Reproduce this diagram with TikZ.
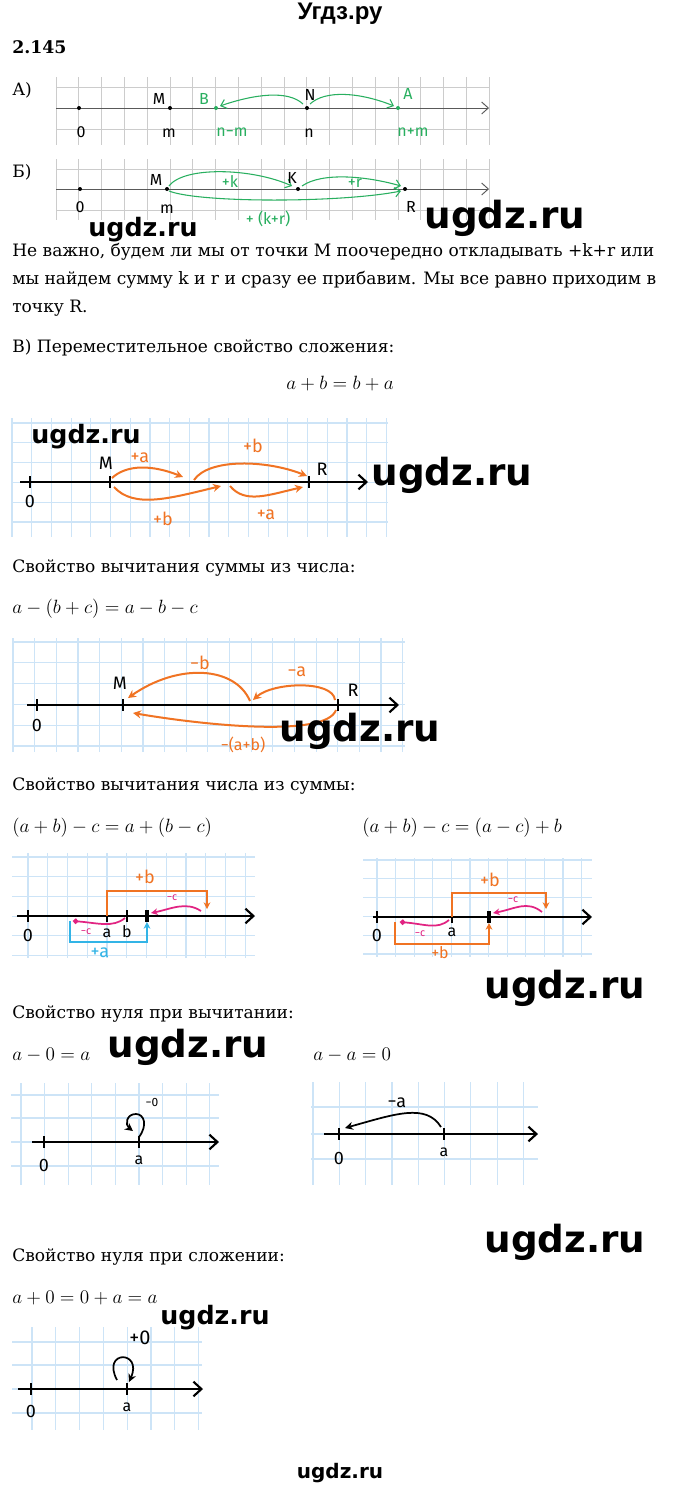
\documentclass[tikz,border=0pt]{standalone}
\usepackage{fontspec}
\setmainfont{DejaVu Serif}
\newfontfamily\headfont{Liberation Sans}
\newfontfamily\wmfont{DejaVu Sans}
\newfontfamily\handfont{Fira Sans}
\usetikzlibrary{arrows.meta, calc}
\definecolor{hgreen}{RGB}{40,175,95}
\definecolor{horange}{RGB}{240,115,35}
\definecolor{hpink}{RGB}{225,35,130}
\definecolor{hcyan}{RGB}{50,180,230}
\definecolor{gridblue}{RGB}{205,228,247}
\tikzset{
  txt/.style={anchor=west, inner sep=0pt, font=\fontsize{12.8}{15}\selectfont},
  frm/.style={inner sep=0pt, font=\fontsize{15.5}{18}\selectfont},
  wmbig/.style={inner sep=0pt, font=\wmfont\bfseries\fontsize{28}{30}\selectfont},
  wmsmall/.style={inner sep=0pt, font=\wmfont\bfseries\fontsize{19}{21}\selectfont},
  greygrid/.style={draw=black!20, line width=0.5pt},
  bluegrid/.style={draw=gridblue, line width=0.9pt},
  thinaxis/.style={draw=black!65, line width=0.7pt, -{Straight Barb[length=5pt,width=9pt]}},
  boldaxis/.style={draw=black, line width=1.6pt, -{Straight Barb[length=6pt,width=11pt]}},
  dotpt/.style={circle, fill=black, inner sep=0pt, minimum size=3pt},
  tick/.style={draw=black, line width=1.3pt},
  hand/.style={inner sep=0pt, font=\handfont\fontsize{12}{14}\selectfont},
  bighand/.style={inner sep=0pt, font=\handfont\fontsize{13.5}{15}\selectfont},
  smallhand/.style={inner sep=0pt, font=\handfont\fontsize{8}{9}\selectfont},
  greenarc/.style={draw=hgreen, line width=0.8pt, -{Straight Barb[length=4pt,width=7pt]}},
  orangearc/.style={draw=horange, line width=1.5pt, -{Stealth[length=6pt,width=6pt]}},
  pinkarc/.style={draw=hpink, line width=1.3pt, -{Stealth[length=5pt,width=5pt]}},
  pinkdot/.style={draw=hpink, line width=1.3pt, -{Circle[length=4pt]}},
  bracket/.style={line width=1.3pt, -{Stealth[length=5pt,width=5pt]}},
  blackarc/.style={draw=black, line width=1.3pt, -{Stealth[length=6pt,width=6pt]}}
}

\begin{document}
\begin{tikzpicture}[x=0.75pt, y=-0.75pt]
  \useasboundingbox (0,0) rectangle (680,1492);
  \fill[white] (0,0) rectangle (680,1492);

  % Header
  \node[inner sep=0pt, font=\headfont\bfseries\fontsize{18}{20}\selectfont] (title) at (340,14) {Угдз.ру};
  \node[txt, font=\bfseries\fontsize{13}{15}\selectfont] (num) at (12,47) {2.145};

  % Part A
  \node[txt] (partA) at (12,90) {А)};
  \foreach \i in {0,...,19}
    \draw[greygrid] ({56+22.8*\i},77) -- ({56+22.8*\i},145);
  \foreach \y in {87,108,129}
    \draw[greygrid] (56,\y) -- (489,\y);
  \coordinate (A0) at (79,108);
  \coordinate (Am) at (170,108);
  \coordinate (AB) at (216,108);
  \coordinate (AN) at (307,108);
  \coordinate (AA) at (398,108);
  \coordinate (Aend) at (489,108);
  \draw[thinaxis] (56,108) -- (Aend);
  \foreach \p in {A0,Am,AN} \node[dotpt] at (\p) {};
  \foreach \p in {AB,AA} \node[dotpt, fill=hgreen] at (\p) {};
  \draw[greenarc] ($(AN)+(-4,-4)$) .. controls +(-15,-14) and +(35,-12) .. ($(AB)+(4,-2)$);
  \draw[greenarc] ($(AN)+(3,-4)$) .. controls +(15,-14) and +(-35,-14) .. ($(AA)+(-4,-2)$);
  \node[hand] (lM) at (159,99) {M};
  \node[hand, hgreen] (lB) at (204,99) {B};
  \node[hand] (lN) at (310,95) {N};
  \node[hand, hgreen] (lA) at (408,94) {A};
  \node[hand] (l0) at (81,132) {0};
  \node[hand] (lm) at (169,133) {m};
  \node[hand, hgreen] (lnm) at (232,132) {n−m};
  \node[hand] (ln) at (309,133) {n};
  \node[hand, hgreen] (lnp) at (413,132) {n+m};

  % Part B
  \node[txt] (partB) at (12,172) {Б)};
  \foreach \i in {0,...,19}
    \draw[greygrid] ({56+22.8*\i},159) -- ({56+22.8*\i},220);
  \foreach \y in {169,189,210}
    \draw[greygrid] (56,\y) -- (489,\y);
  \coordinate (B0) at (80,189);
  \coordinate (Bm) at (167,189);
  \coordinate (BK) at (298,189);
  \coordinate (BR) at (405,189);
  \coordinate (Bend) at (489,189);
  \draw[thinaxis] (56,189) -- (Bend);
  \foreach \p in {B0,Bm,BK,BR} \node[dotpt] at (\p) {};
  \draw[greenarc] ($(Bm)+(2,-3)$) .. controls +(15,-20) and +(-40,-18) .. ($(BK)+(-6,-3)$);
  \draw[greenarc] ($(BK)+(4,-3)$) .. controls +(20,-14) and +(-35,-10) .. ($(BR)+(-4,-3)$);
  \draw[greenarc] ($(Bm)+(2,2)$) .. controls +(30,12) and +(-60,12) .. ($(BR)+(-4,2)$);
  \node[hand] (bM) at (156,180) {M};
  \node[hand] (bK) at (292,178) {K};
  \node[hand] (b0) at (80,207) {0};
  \node[hand] (bm) at (167,209) {m};
  \node[hand] (bR) at (411,207) {R};
  \node[hand, hgreen] (bk) at (230,181) {+k};
  \node[hand, hgreen] (br) at (355,183) {+r};
  \node[hand, hgreen] (bkr) at (268,219) {+ (k+r)};

  % Text of part B
  \node[txt] (p1) at (12,252) {Не важно, будем ли мы от точки М поочередно откладывать +k+r или};
  \node[txt] (p2) at (12,280) {мы найдем сумму k и r и сразу ее прибавим. Мы все равно приходим в};
  \node[txt] (p3) at (12,308) {точку R.};
  \node[txt] (partC) at (12,348) {В) Переместительное свойство сложения:};
  \node[frm] (f1) at (340,384) {$a+b=b+a$};

  % Commutative law
  \foreach \i in {0,...,19}
    \draw[bluegrid] ({12+19.7*\i},418) -- ({12+19.7*\i},537);
  \foreach \j in {0,...,5}
    \draw[bluegrid] (12,{423+19.8*\j}) -- (388,{423+19.8*\j});
  \coordinate (C0) at (30,482);
  \coordinate (CM) at (110,482);
  \coordinate (CR) at (309,482);
  \coordinate (Cend) at (368,482);
  \draw[boldaxis] (20,482) -- (Cend);
  \foreach \p in {C0,CM,CR} \draw[tick] ($(\p)+(0,-6)$) -- ($(\p)+(0,6)$);
  \draw[orangearc] ($(CM)+(2,-4)$) .. controls +(15,-14) and +(-30,-12) .. (183,477);
  \draw[orangearc] (194,480) .. controls +(15,-22) and +(-40,-16) .. ($(CR)+(-2,-6)$);
  \draw[orangearc] ($(CM)+(4,5)$) .. controls +(20,22) and +(-50,12) .. (221,486);
  \draw[orangearc] (230,486) .. controls +(15,18) and +(-35,8) .. ($(CR)+(-6,5)$);
  \node[bighand] (c0) at (30,501) {0};
  \node[bighand] (cM) at (106,463) {M};
  \node[bighand] (cR) at (322,469) {R};
  \node[bighand, horange] (ca1) at (140,458) {+a};
  \node[bighand, horange] (cb1) at (253,446) {+b};
  \node[bighand, horange] (cb2) at (163,519) {+b};
  \node[bighand, horange] (ca2) at (266,515) {+a};

  % Subtracting a sum
  \node[txt] (partD) at (12,568) {Свойство вычитания суммы из числа:};
  \node[frm, anchor=west] (f2) at (12,609) {$a-(b+c)=a-b-c$};
  \foreach \i in {0,...,18}
    \draw[bluegrid] ({13+21.65*\i},638) -- ({13+21.65*\i},752);
  \foreach \j in {0,...,5}
    \draw[bluegrid] (13,{642+20.8*\j}) -- (405,{642+20.8*\j});
  \coordinate (D0) at (37,705);
  \coordinate (DM) at (123,705);
  \coordinate (DR) at (338,705);
  \coordinate (Dend) at (399,705);
  \draw[boldaxis] (27,705) -- (Dend);
  \foreach \p in {D0,DM,DR} \draw[tick] ($(\p)+(0,-6)$) -- ($(\p)+(0,6)$);
  \draw[orangearc] (250,701) .. controls +(-15,-35) and +(50,-35) .. ($(DM)+(5,-7)$);
  \draw[orangearc] ($(DR)+(-3,-5)$) .. controls +(-2,-20) and +(20,-18) .. (253,700);
  \draw[orangearc] ($(DR)+(-2,5)$) .. controls +(-10,28) and +(70,12) .. ($(DM)+(10,8)$);
  \node[bighand] (d0) at (37,725) {0};
  \node[bighand] (dM) at (120,683) {M};
  \node[bighand] (dR) at (353,690) {R};
  \node[bighand, horange] (db) at (200,663) {−b};
  \node[bighand, horange] (da) at (297,672) {−a};
  \node[hand, horange] (dab) at (243,745) {−(a+b)};

  % Subtracting a number from a sum
  \node[txt] (partE) at (12,786) {Свойство вычитания числа из суммы:};
  \node[frm, anchor=west] (f3) at (12,828) {$(a+b)-c=a+(b-c)$};
  \node[frm, anchor=west] (f4) at (362,828) {$(a+b)-c=(a-c)+b$};

  % left diagram
  \foreach \i in {0,...,11}
    \draw[bluegrid] ({28+19.75*\i},853) -- ({28+19.75*\i},958);
  \foreach \j in {0,...,5}
    \draw[bluegrid] (12,{857+19.7*\j}) -- (255,{857+19.7*\j});
  \coordinate (E0) at (28,916);
  \coordinate (Ea) at (107,916);
  \coordinate (Eb) at (127,916);
  \coordinate (Ep) at (147,916);
  \coordinate (Eq) at (207,916);
  \coordinate (Eend) at (255,916);
  \draw[boldaxis] (17,916) -- (Eend);
  \foreach \p in {E0,Ea,Eb} \draw[tick] ($(\p)+(0,-6)$) -- ($(\p)+(0,6)$);
  \draw[tick, line width=3pt] ($(Ep)+(0,-6)$) -- ($(Ep)+(0,6)$);
  \draw[bracket, horange] (Ea) -- ++(0,-25) -| ($(Eq)+(0,-7)$);
  \draw[pinkarc] (201,911) .. controls +(-15,-10) and +(20,-4) .. ($(Ep)+(4,-3)$);
  \draw[pinkdot] ($(Eb)+(-2,2)$) .. controls +(-12,10) and +(25,2) .. (73,921);
  \draw[bracket, hcyan] (70,921) -- ++(0,21) -| ($(Ep)+(0,6)$);
  \node[bighand] (e0) at (28,935) {0};
  \node[hand] (ea) at (107,933) {a};
  \node[hand] (eb) at (127,932) {b};
  \node[smallhand, hpink] (ec1) at (86,932) {−c};
  \node[smallhand, hpink] (ec2) at (172,898) {−c};
  \node[bighand, horange] (eb2) at (145,877) {+b};
  \node[bighand, hcyan] (ea2) at (100,953) {+a};

  % right diagram
  \foreach \i in {0,...,11}
    \draw[bluegrid] ({377+18.6*\i},858) -- ({377+18.6*\i},957);
  \foreach \j in {0,...,5}
    \draw[bluegrid] (363,{860+18.8*\j}) -- (592,{860+18.8*\j});
  \coordinate (F0) at (377,917);
  \coordinate (Fa) at (452,917);
  \coordinate (Fp) at (489,917);
  \coordinate (Fq) at (546,917);
  \coordinate (Fend) at (592,917);
  \draw[boldaxis] (373,917) -- (Fend);
  \foreach \p in {F0,Fa} \draw[tick] ($(\p)+(0,-6)$) -- ($(\p)+(0,6)$);
  \draw[tick, line width=3pt] ($(Fp)+(0,-6)$) -- ($(Fp)+(0,6)$);
  \draw[bracket, horange] (Fa) -- ++(0,-24) -| ($(Fq)+(0,-8)$);
  \draw[pinkarc] (542,912) .. controls +(-15,-12) and +(22,-4) .. ($(Fp)+(4,-4)$);
  \draw[pinkdot] ($(Fa)+(-3,3)$) .. controls +(-12,10) and +(25,2) .. (400,922);
  \draw[bracket, horange] (395,922) -- ++(0,22) -| ($(Fp)+(0,6)$);
  \node[bighand] (f0) at (377,935) {0};
  \node[hand] (fa) at (452,932) {a};
  \node[smallhand, hpink] (fc1) at (420,934) {−c};
  \node[smallhand, hpink] (fc2) at (513,900) {−c};
  \node[bighand, horange] (fb1) at (490,880) {+b};
  \node[hand, horange] (fb2) at (440,953) {+b};

  % Zero in subtraction
  \node[txt] (partF) at (12,1014) {Свойство нуля при вычитании:};
  \node[frm, anchor=west] (f5) at (12,1055) {$a-0=a$};
  \node[frm, anchor=west] (f6) at (313,1055) {$a-a=0$};
  \foreach \i in {0,...,8}
    \draw[bluegrid] ({21+23.6*\i},1083) -- ({21+23.6*\i},1185);
  \foreach \y in {1095,1118,1142,1166}
    \draw[bluegrid] (11,\y) -- (219,\y);
  \coordinate (G0) at (44,1142);
  \coordinate (Ga) at (139,1142);
  \coordinate (Gend) at (219,1142);
  \draw[boldaxis] (32,1142) -- (Gend);
  \foreach \p in {G0,Ga} \draw[tick] ($(\p)+(0,-6)$) -- ($(\p)+(0,6)$);
  \draw[blackarc] ($(Ga)+(0,-5)$) .. controls +(9,-12) and +(8,0) .. ($(Ga)+(-3,-28)$)
    .. controls +(-10,0) and +(-8,-6) .. ($(Ga)+(-6,-11)$);
  \node[bighand] (g0) at (44,1165) {0};
  \node[hand] (ga) at (139,1160) {a};
  \node[hand, font=\handfont\fontsize{9}{10}\selectfont] (gz) at (152,1102) {−0};

  \foreach \i in {0,...,8}
    \draw[bluegrid] ({313+26.3*\i},1082) -- ({313+26.3*\i},1185);
  \foreach \y in {1107,1134,1159}
    \draw[bluegrid] (311,\y) -- (538,\y);
  \coordinate (H0) at (339,1134);
  \coordinate (Ha) at (444,1134);
  \coordinate (Hend) at (538,1134);
  \draw[boldaxis] (324,1134) -- (Hend);
  \foreach \p in {H0,Ha} \draw[tick] ($(\p)+(0,-6)$) -- ($(\p)+(0,6)$);
  \draw[blackarc] ($(Ha)+(-3,-7)$) .. controls +(-15,-24) and +(50,-14) .. ($(H0)+(6,-6)$);
  \node[bighand] (h0) at (339,1158) {0};
  \node[hand] (ha) at (444,1152) {a};
  \node[bighand] (hz) at (397,1103) {−a};

  % Zero in addition
  \node[txt] (partG) at (12,1257) {Свойство нуля при сложении:};
  \node[frm, anchor=west] (f7) at (12,1298) {$a+0=0+a=a$};
  \foreach \i in {0,...,7}
    \draw[bluegrid] ({32+23.8*\i},1327) -- ({32+23.8*\i},1430);
  \foreach \y in {1342,1365,1389,1413}
    \draw[bluegrid] (12,\y) -- (202,\y);
  \coordinate (K0) at (31,1389);
  \coordinate (Ka) at (127,1389);
  \coordinate (Kend) at (203,1389);
  \draw[boldaxis] (18,1389) -- (Kend);
  \foreach \p in {K0,Ka} \draw[tick] ($(\p)+(0,-6)$) -- ($(\p)+(0,6)$);
  \draw[blackarc] ($(Ka)+(-10,-9)$) .. controls +(-16,-30) and +(14,-32) .. ($(Ka)+(2,-7)$);
  \node[bighand] (k0) at (31,1411) {0};
  \node[hand] (ka) at (127,1407) {a};
  \node[hand, font=\handfont\fontsize{15}{17}\selectfont] (kz) at (140,1338) {+0};

  % Watermarks
  \node[wmsmall] (wm1) at (143,230) {ugdz.ru};
  \node[wmbig] (wm2) at (505,218) {ugdz.ru};
  \node[wmsmall] (wm3) at (86,437) {ugdz.ru};
  \node[wmbig] (wm4) at (452,475) {ugdz.ru};
  \node[wmbig] (wm5) at (360,731) {ugdz.ru};
  \node[wmbig] (wm6) at (565,988) {ugdz.ru};
  \node[wmbig] (wm7) at (188,1047) {ugdz.ru};
  \node[wmbig] (wm8) at (565,1242) {ugdz.ru};
  \node[wmsmall] (wm9) at (215,1318) {ugdz.ru};
  \node[inner sep=0pt, font=\wmfont\bfseries\fontsize{15}{17}\selectfont] (wm10) at (340,1473) {ugdz.ru};
\end{tikzpicture}
\end{document}
